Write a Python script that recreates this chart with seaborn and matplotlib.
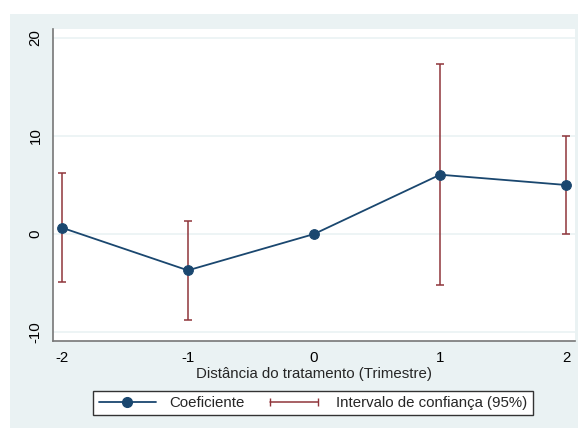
# Libraries
import matplotlib
matplotlib.use('Agg')
import matplotlib.pyplot as plt
import pandas as pd
import seaborn as sns
from matplotlib.lines import Line2D
from matplotlib.patches import Rectangle
from matplotlib.legend_handler import HandlerLine2D

# Event-study style plot (coefficients + 95% CI)

# Data
periods = [-2, -1, 0, 1, 2]
coef = [0.65, -3.7, 0.0, 6.05, 5.0]
ci_low = [-4.9, -8.8, 0.0, -5.2, 0.0]
ci_high = [6.2, 1.3, 0.0, 17.3, 10.0]
yticks = [-10, 0, 10, 20]

df = pd.DataFrame({'periodo': periods, 'coef': coef, 'low': ci_low, 'high': ci_high})

navy = '#1a476f'
maroon = '#90353b'
bg = '#eaf2f3'

sns.set_style('white')
plt.rcParams['font.family'] = ['Liberation Sans', 'DejaVu Sans']
plt.rcParams['axes.unicode_minus'] = False

fig = plt.figure(figsize=(5.78, 4.28), dpi=100)
fig.patch.set_facecolor('white')
# outer graph region (Stata style)
bg_rect = Rectangle((10 / 578, 0), 1 - 10 / 578, 1 - 14 / 428,
                    transform=fig.transFigure, facecolor=bg, edgecolor='none', zorder=-10)
fig.add_artist(bg_rect)

ax = fig.add_axes([53 / 578, (428 - 341) / 428, (575 - 53) / 578, (341 - 29) / 428])
ax.set_zorder(1)
ax.set_facecolor('white')

# gridlines
for y in yticks:
    ax.axhline(y, color=bg, lw=1.2, zorder=0)

# confidence intervals
ax.errorbar(df.periodo, df.coef,
            yerr=[df.coef - df.low, df.high - df.coef],
            fmt='none', ecolor=maroon, elinewidth=1.1, capsize=2.8, capthick=1.1, zorder=2)

# coefficients
sns.lineplot(data=df, x='periodo', y='coef', ax=ax, color=navy, lw=1.3,
             marker='o', markersize=7, markeredgecolor=navy, zorder=3)

ax.set_xlim(-2.07, 2.07)
ax.set_ylim(-10.9, 20.9)
ax.set_xticks(periods)
ax.set_yticks(yticks)
ax.set_yticklabels([str(t) for t in yticks], rotation=90, va='center')
ax.tick_params(axis='both', direction='out', length=4, width=1,
               colors='#555555', labelcolor='black', labelsize=10.8)
ax.set_xlabel('Distância do tratamento (Trimestre)', fontsize=10.8, labelpad=1)
ax.set_ylabel('')

for side in ['top', 'right']:
    ax.spines[side].set_visible(False)
for side in ['left', 'bottom']:
    ax.spines[side].set_color('#777777')
    ax.spines[side].set_linewidth(1.2)

# legend
h_coef = Line2D([], [], color=navy, lw=1.3, marker='o', markersize=7)
h_ci = Line2D([], [], color=maroon, lw=1.1, marker='|', markersize=6)
leg = fig.legend([h_coef, h_ci], ['Coeficiente', 'Intervalo de confiança (95%)'],
                 loc='center', bbox_to_anchor=(313 / 578, 1 - 403 / 428), ncol=2,
                 fontsize=10.8, frameon=True, fancybox=False, handlelength=3.8,
                 handletextpad=0.9, columnspacing=1.4, borderpad=0.35,
                 handler_map={h_coef: HandlerLine2D(numpoints=1), h_ci: HandlerLine2D(numpoints=2)})
leg.get_frame().set_edgecolor('#333333')
leg.get_frame().set_linewidth(1.0)
leg.get_frame().set_facecolor('white')
leg.get_frame().set_alpha(1)

plt.savefig('out.png', dpi=100, facecolor=fig.get_facecolor())
